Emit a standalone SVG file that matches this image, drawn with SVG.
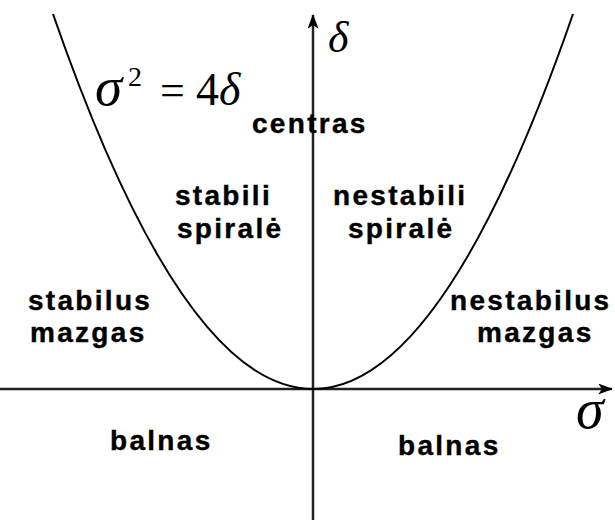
<svg xmlns="http://www.w3.org/2000/svg" width="615" height="520" viewBox="0 0 615 520">
<style>
.lbl{font-family:"Liberation Sans",Arial,sans-serif;font-weight:bold;font-size:28px;letter-spacing:2.3px;fill:#000;stroke:#000;stroke-width:0.4}
.math{font-family:"Liberation Serif","Times New Roman",serif;fill:#000}
.ax{stroke:#222;stroke-width:2.5;fill:none}
</style>
<defs>
<marker id="ah" viewBox="0 0 16 12" refX="15" refY="6" markerWidth="15" markerHeight="11" markerUnits="userSpaceOnUse" orient="auto">
<path d="M0,0 L16,6 L0,12 L4,6 Z" fill="#000"/>
</marker>
</defs>
<rect width="615" height="520" fill="#fff"/>
<g id="connectors">
<line class="ax" x1="0" y1="389" x2="612" y2="389" marker-end="url(#ah)"/>
<line class="ax" x1="313" y1="520" x2="313" y2="15" marker-end="url(#ah)"/>
<path d="M53,14 Q313,764 573,14" stroke="#000" stroke-width="2" fill="none"/>
</g>
<g id="eq">
<text class="math" y="105" font-size="46"><tspan x="95" font-style="italic" font-size="55">σ</tspan><tspan x="128" y="86" font-size="28">2</tspan><tspan x="160" y="105" font-size="44">=</tspan><tspan x="196">4</tspan><tspan font-style="italic">δ</tspan></text>
</g>
<g id="delta-label"><text class="math" x="328" y="52" font-size="44" font-style="italic">δ</text></g>
<g id="sigma-label"><text class="math" x="576" y="428" font-size="56" font-style="italic">σ</text></g>
<g id="centras"><text class="lbl" x="252" y="133">centras</text></g>
<g id="stabili-spirale"><text class="lbl" x="175" y="205">stabili</text><text class="lbl" x="177" y="238">spiralė</text></g>
<g id="nestabili-spirale"><text class="lbl" x="333" y="205">nestabili</text><text class="lbl" x="348" y="238">spiralė</text></g>
<g id="stabilus-mazgas"><text class="lbl" x="28" y="310">stabilus</text><text class="lbl" x="30" y="342">mazgas</text></g>
<g id="nestabilus-mazgas"><text class="lbl" x="450" y="310">nestabilus</text><text class="lbl" x="477" y="342">mazgas</text></g>
<g id="balnas-left"><text class="lbl" x="110" y="450">balnas</text></g>
<g id="balnas-right"><text class="lbl" x="398" y="455">balnas</text></g>
</svg>
